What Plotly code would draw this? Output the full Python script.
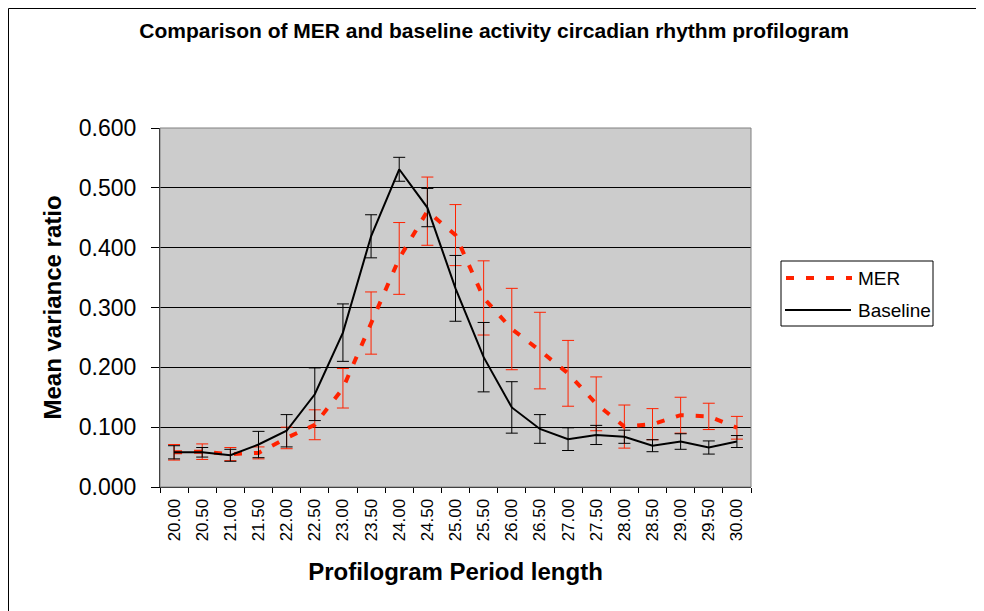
import plotly.graph_objects as go

# Datos
periodos = ["20.00", "20.50", "21.00", "21.50", "22.00", "22.50", "23.00",
            "23.50", "24.00", "24.50", "25.00", "25.50", "26.00", "26.50",
            "27.00", "27.50", "28.00", "28.50", "29.00", "29.50", "30.00"]

mer = [0.058, 0.059, 0.055, 0.057, 0.082, 0.104, 0.165, 0.274, 0.382, 0.461, 0.421,
       0.316, 0.264, 0.228, 0.190, 0.139, 0.101, 0.105, 0.120, 0.118, 0.099]
mer_err = [0.013, 0.013, 0.011, 0.010, 0.018, 0.025, 0.033, 0.052, 0.060, 0.057, 0.051,
           0.062, 0.068, 0.064, 0.055, 0.045, 0.036, 0.026, 0.030, 0.022, 0.019]

baseline = [0.058, 0.058, 0.053, 0.071, 0.094, 0.155, 0.258, 0.419, 0.531, 0.467, 0.332,
            0.217, 0.133, 0.097, 0.080, 0.087, 0.084, 0.069, 0.076, 0.066, 0.076]
baseline_err = [0.011, 0.008, 0.010, 0.022, 0.027, 0.044, 0.048, 0.036, 0.020, 0.032, 0.055,
                0.058, 0.043, 0.024, 0.019, 0.016, 0.011, 0.010, 0.013, 0.011, 0.010]

series = ["MER", "Baseline"]

ROJO = "#FF2200"
FUENTE = "Arial, Liberation Sans, sans-serif"
DASH_MER = "8px,12px"

fig = go.Figure()

fig.add_trace(go.Scatter(
    x=periodos, y=mer, name=series[0], mode="lines", showlegend=False,
    line=dict(color=ROJO, width=4, dash=DASH_MER),
    error_y=dict(type="data", array=mer_err, visible=True,
                 color=ROJO, thickness=1, width=6),
))

fig.add_trace(go.Scatter(
    x=periodos, y=baseline, name=series[1], mode="lines", showlegend=False,
    line=dict(color="black", width=2),
    error_y=dict(type="data", array=baseline_err, visible=True,
                 color="black", thickness=1, width=6),
))

# margenes en px (la pagina mete 8px de margen en el body)
m_l, m_r, m_t, m_b = 152, 241, 120, 132
ancho = 984 - m_l - m_r
alto = 611 - m_t - m_b


def px_x(px):
    return (px - m_l) / ancho


def px_y(py):
    return (611 - m_b - py) / alto


# leyenda dibujada a mano (linea de muestra mas larga, como en Excel)
leyenda_shapes = [
    dict(type="rect", xref="paper", yref="paper",
         x0=px_x(773), x1=px_x(925), y0=px_y(318), y1=px_y(253),
         line=dict(color="black", width=1), fillcolor="white", layer="above"),
    dict(type="line", xref="paper", yref="paper",
         x0=px_x(778), x1=px_x(844), y0=px_y(270), y1=px_y(270),
         line=dict(color=ROJO, width=4, dash=DASH_MER), layer="above"),
    dict(type="line", xref="paper", yref="paper",
         x0=px_x(777), x1=px_x(843), y0=px_y(302), y1=px_y(302),
         line=dict(color="black", width=2), layer="above"),
]
leyenda_textos = [
    dict(text=series[0], xref="paper", yref="paper", x=px_x(848), y=px_y(270),
         xanchor="left", yanchor="middle", showarrow=False,
         font=dict(size=19, family=FUENTE, color="black")),
    dict(text=series[1], xref="paper", yref="paper", x=px_x(848), y=px_y(302),
         xanchor="left", yanchor="middle", showarrow=False,
         font=dict(size=19, family=FUENTE, color="black")),
]

fig.update_layout(
    width=984, height=611,
    margin=dict(l=m_l, r=m_r, t=m_t, b=m_b),
    paper_bgcolor="white",
    plot_bgcolor="#CCCCCC",
    font=dict(family=FUENTE, color="black"),
    title=dict(
        text="<b>Comparison of MER and baseline activity circadian rhythm profilogram</b>",
        font=dict(size=21, family=FUENTE, color="black"),
        x=0.494, xanchor="center", xref="container",
        y=1 - 23 / 611, yanchor="middle", yref="container",
    ),
    xaxis=dict(
        type="category",
        range=[-0.5, len(periodos) - 0.5],
        title=dict(text="<b>Profilogram Period length</b>",
                   font=dict(size=24), standoff=22),
        tickangle=-90,
        tickfont=dict(size=17),
        ticks="outside", ticklen=5, tickcolor="black",
        ticklabelstandoff=4,
        tickson="boundaries",
        showline=True, linecolor="black", linewidth=1,
        showgrid=False, zeroline=False,
    ),
    yaxis=dict(
        title=dict(text="<b>Mean variance ratio</b>",
                   font=dict(size=24), standoff=10),
        range=[0, 0.6], dtick=0.1, tickformat=".3f",
        tickfont=dict(size=23),
        ticks="outside", ticklen=8, tickcolor="black",
        ticklabelstandoff=10,
        showline=True, linecolor="black", linewidth=1,
        showgrid=True, gridcolor="black", gridwidth=1,
        zeroline=False,
    ),
    shapes=[
        # borde gris del area del grafico (arriba y derecha)
        dict(type="rect", xref="paper", yref="paper", x0=0, x1=1, y0=0, y1=1,
             line=dict(color="#808080", width=1), layer="above"),
        # marco exterior del grafico
        dict(type="rect", xref="paper", yref="paper",
             x0=px_x(0.5), x1=px_x(1000), y0=px_y(630), y1=px_y(0.5),
             line=dict(color="black", width=1), layer="below"),
    ] + leyenda_shapes,
    annotations=leyenda_textos,
)

fig.write_html("out.html")
